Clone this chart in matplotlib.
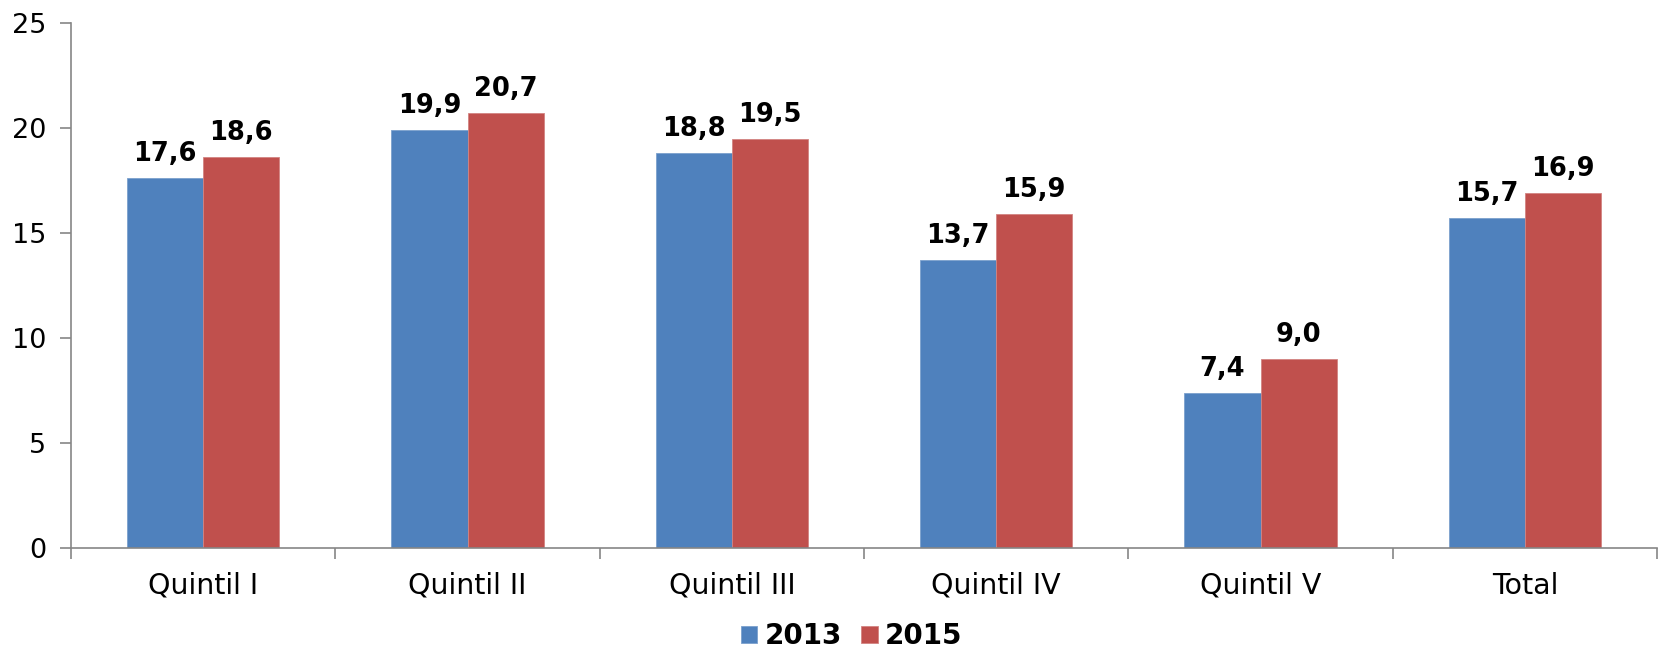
import matplotlib.pyplot as plt
import numpy as np

categories = ["Quintil I", "Quintil II", "Quintil III", "Quintil IV", "Quintil V", "Total"]
values_2013 = [17.6, 19.9, 18.8, 13.7, 7.4, 15.7]
values_2015 = [18.6, 20.7, 19.5, 15.9, 9.0, 16.9]
series_names = ["2013", "2015"]

plt.rcParams['font.family'] = ['DejaVu Sans']

fig = plt.figure(figsize=(16.6, 6.52), dpi=100)
ax = fig.add_axes([71 / 1660, 1 - 548 / 652, (1657 - 71) / 1660, (548 - 23) / 652])

x = np.arange(len(categories))
width = 0.288
bars_a = ax.bar(x - width / 2, values_2013, width, color="#4F81BD", edgecolor="#7BA0CD", linewidth=0.6, label=series_names[0])
bars_b = ax.bar(x + width / 2, values_2015, width, color="#C0504D", edgecolor="#D38482", linewidth=0.6, label=series_names[1])

for bars in (bars_a, bars_b):
    for b in bars:
        h = b.get_height()
        ax.annotate(f"{h:.1f}".replace(".", ","), (b.get_x() + b.get_width() / 2, h),
                    xytext=(0, 11), textcoords="offset pixels", ha="center", va="bottom",
                    fontsize=18.5, fontweight="bold")

ax.set_xlim(-0.5, len(categories) - 0.5)
ax.set_ylim(0, 25)
ax.set_yticks(range(0, 26, 5))
ax.set_xticks(x)
ax.set_xticklabels(categories)
ax.set_xticks(np.arange(-0.5, len(categories)), minor=True)

for s in ("top", "right"):
    ax.spines[s].set_visible(False)
for s in ("left", "bottom"):
    ax.spines[s].set_color("#868686")
    ax.spines[s].set_linewidth(1.2)

ax.tick_params(axis="y", length=8, color="#868686", width=1.2, labelsize=19.5, pad=10)
ax.tick_params(axis="x", which="major", length=0, labelsize=20.5, pad=17)
ax.tick_params(axis="x", which="minor", length=8, color="#868686", width=1.2)

leg = fig.legend(loc="lower center", bbox_to_anchor=(0.513, -0.036), ncol=2, frameon=False,
                 prop={"size": 20, "weight": "bold"}, handlelength=0.6, handleheight=0.6,
                 handletextpad=0.25, columnspacing=0.7)

fig.savefig("out.png", dpi=100)
